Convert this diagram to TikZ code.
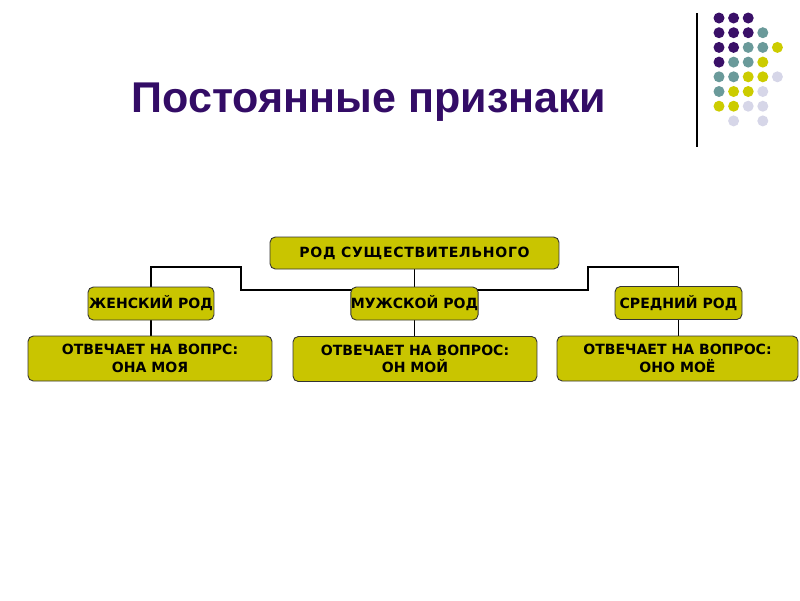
\documentclass[tikz,border=0pt]{standalone}
\usepackage{fontspec}
\setmainfont{DejaVu Sans}
\newfontfamily\titlefont{Liberation Sans}
\usetikzlibrary{backgrounds}
\definecolor{titleviolet}{RGB}{51,12,102}
\definecolor{boxolive}{RGB}{201,197,0}
\definecolor{dotviolet}{RGB}{58,16,104}
\definecolor{dotteal}{RGB}{106,154,154}
\definecolor{dotolive}{RGB}{204,204,0}
\definecolor{dotlilac}{RGB}{214,214,232}

\begin{document}
\begin{tikzpicture}[x=0.02cm,y=-0.02cm,
    box/.style={draw=black!80,fill=boxolive,rounded corners=3pt,line width=0.5pt,
      inner sep=0pt,align=center,font=\bfseries\fontsize{8}{10}\selectfont},
    link/.style={line width=1.1pt},
    dot/.style={circle,inner sep=0pt,minimum size=0.22cm}]
  \useasboundingbox (0,0) rectangle (800,600);

  % title and corner ornament
  \node (title) at (369,102) {\titlefont\bfseries\fontsize{24.5}{29}\selectfont\color{titleviolet}Постоянные признаки};
  \draw[line width=0.8pt] (697,13) -- (697,147);
  \foreach \col/\row/\c in {0/0/dotviolet,1/0/dotviolet,2/0/dotviolet,
      0/1/dotviolet,1/1/dotviolet,2/1/dotviolet,3/1/dotteal,
      0/2/dotviolet,1/2/dotviolet,2/2/dotteal,3/2/dotteal,4/2/dotolive,
      0/3/dotviolet,1/3/dotteal,2/3/dotteal,3/3/dotolive,
      0/4/dotteal,1/4/dotteal,2/4/dotolive,3/4/dotolive,4/4/dotlilac,
      0/5/dotteal,1/5/dotolive,2/5/dotolive,3/5/dotlilac,
      0/6/dotolive,1/6/dotolive,2/6/dotlilac,3/6/dotlilac,
      1/7/dotlilac,3/7/dotlilac}
    \node[dot,fill=\c] (d\col\row) at ({719+14.6*\col},{18+14.7*\row}) {};

  % boxes
  \node[box,minimum width=5.78cm,minimum height=0.64cm] (root) at (414.5,253) {\addfontfeatures{LetterSpace=5}РОД СУЩЕСТВИТЕЛЬНОГО};
  \node[box,minimum width=2.52cm,minimum height=0.66cm] (fem) at (151,303.5) {ЖЕНСКИЙ РОД};
  \node[box,minimum width=2.5cm,minimum height=0.66cm] (masc) at (414.5,303.5) {МУЖСКОЙ РОД};
  \node[box,minimum width=2.54cm,minimum height=0.66cm] (neut) at (678.5,303) {СРЕДНИЙ РОД};
  \node[box,minimum width=4.88cm,minimum height=0.9cm] (femq) at (150,358.5) {ОТВЕЧАЕТ НА ВОПРС:\\ОНА МОЯ};
  \node[box,minimum width=4.88cm,minimum height=0.9cm] (mascq) at (415,359) {ОТВЕЧАЕТ НА ВОПРОС:\\ОН МОЙ};
  \node[box,minimum width=4.82cm,minimum height=0.9cm] (neutq) at (677.5,358.5) {ОТВЕЧАЕТ НА ВОПРОС:\\ОНО МОЁ};

  % connectors behind the boxes
  \coordinate (knot) at (414.5,290);
  \coordinate (lbend) at (241,290);
  \coordinate (ltop) at (241,267);
  \coordinate (rbend) at (588,290);
  \coordinate (rtop) at (588,267);
  \begin{scope}[on background layer]
    \draw[link] (root.south) -- (knot) -- (lbend) -- (ltop) -| (fem.north);
    \draw[link] (knot) -- (rbend) -- (rtop) -| (neut.north);
    \draw[link] (knot) -- (masc.north);
    \draw[link] (fem.south) -- (fem.south |- femq.north);
    \draw[link] (masc.south) -- (masc.south |- mascq.north);
    \draw[link] (neut.south) -- (neut.south |- neutq.north);
  \end{scope}
\end{tikzpicture}
\end{document}
